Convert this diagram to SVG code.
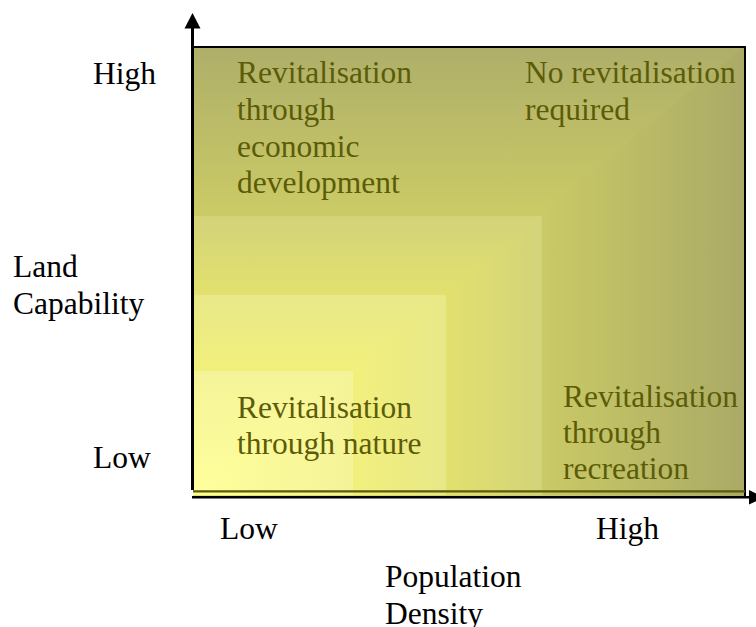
<svg xmlns="http://www.w3.org/2000/svg" width="756" height="627" viewBox="0 0 756 627">
<style>
.lbl{font-family:"Liberation Serif","Times New Roman",serif;font-size:31.5px;fill:#000}
.q{font-family:"Liberation Serif","Times New Roman",serif;font-size:31.5px;fill:#5c5c08}
.ax{stroke:#000;stroke-width:3;fill:none}
</style>
<defs>
<linearGradient id="o-h" gradientUnits="userSpaceOnUse" x1="193" y1="0" x2="745" y2="0">
<stop offset="0" stop-color="#e6e660"/><stop offset="0.62" stop-color="#cbcb66"/><stop offset="1" stop-color="#aaaa67"/>
</linearGradient>
<linearGradient id="o-v" gradientUnits="userSpaceOnUse" x1="0" y1="495" x2="0" y2="46">
<stop offset="0" stop-color="#e6e660"/><stop offset="0.62" stop-color="#cbcb66"/><stop offset="1" stop-color="#aeae6a"/>
</linearGradient>
<linearGradient id="r2-h" gradientUnits="userSpaceOnUse" x1="193" y1="0" x2="542" y2="0">
<stop offset="0" stop-color="#efee70"/><stop offset="0.72" stop-color="#e2e16e"/><stop offset="1" stop-color="#d3d37a"/>
</linearGradient>
<linearGradient id="r2-v" gradientUnits="userSpaceOnUse" x1="0" y1="495" x2="0" y2="216">
<stop offset="0" stop-color="#efee70"/><stop offset="0.72" stop-color="#e2e16e"/><stop offset="1" stop-color="#d3d37a"/>
</linearGradient>
<linearGradient id="r3-h" gradientUnits="userSpaceOnUse" x1="193" y1="0" x2="446" y2="0">
<stop offset="0" stop-color="#fafa88"/><stop offset="0.62" stop-color="#f2f07c"/><stop offset="1" stop-color="#e8e889"/>
</linearGradient>
<linearGradient id="r3-v" gradientUnits="userSpaceOnUse" x1="0" y1="495" x2="0" y2="295">
<stop offset="0" stop-color="#fafa88"/><stop offset="0.62" stop-color="#f2f07c"/><stop offset="1" stop-color="#e8e889"/>
</linearGradient>
<linearGradient id="r4-h" gradientUnits="userSpaceOnUse" x1="193" y1="0" x2="353" y2="0">
<stop offset="0" stop-color="#ffff9c"/><stop offset="1" stop-color="#f5f398"/>
</linearGradient>
<linearGradient id="r4-v" gradientUnits="userSpaceOnUse" x1="0" y1="495" x2="0" y2="371">
<stop offset="0" stop-color="#ffff9c"/><stop offset="1" stop-color="#f5f398"/>
</linearGradient>
</defs>

<g id="background-bands">
<rect x="193" y="46" width="552" height="451" fill="url(#o-h)"/>
<polygon points="193,497 193,46 745,46" fill="url(#o-v)"/>
<rect x="193" y="216" width="349" height="279" fill="url(#r2-h)"/>
<polygon points="193,495 193,216 542,216" fill="url(#r2-v)"/>
<rect x="193" y="295" width="253" height="200" fill="url(#r3-h)"/>
<polygon points="193,495 193,295 446,295" fill="url(#r3-v)"/>
<rect x="193" y="371" width="160" height="124" fill="url(#r4-h)"/>
<polygon points="193,495 193,371 353,371" fill="url(#r4-v)"/>
<polyline points="193,47 745,47 745,497" fill="none" stroke="#000" stroke-width="2"/>
<line x1="193" y1="491.3" x2="745" y2="491.3" stroke="#5a5a08" stroke-width="2.2"/>
</g>

<g id="connectors">
<line class="ax" x1="192.5" y1="27" x2="192.5" y2="490"/>
<polygon points="184.5,28.5 192.5,13 200.5,28.5" fill="#000"/>
<line x1="192" y1="497.3" x2="751" y2="497.3" stroke="#000" stroke-width="2.5"/>
<polygon points="749,490 764,497.3 749,504.6" fill="#000"/>
</g>

<g id="q-top-left">
<text class="q" x="237" y="83">Revitalisation</text>
<text class="q" x="237" y="120">through</text>
<text class="q" x="237" y="157">economic</text>
<text class="q" x="237" y="193">development</text>
</g>
<g id="q-top-right">
<text class="q" x="525" y="83">No revitalisation</text>
<text class="q" x="525" y="120">required</text>
</g>
<g id="q-bottom-left">
<text class="q" x="237" y="418">Revitalisation</text>
<text class="q" x="237" y="454">through nature</text>
</g>
<g id="q-bottom-right">
<text class="q" x="563" y="407">Revitalisation</text>
<text class="q" x="563" y="443">through</text>
<text class="q" x="563" y="479">recreation</text>
</g>

<g id="y-axis-labels">
<text class="lbl" x="93" y="84">High</text>
<text class="lbl" x="13" y="277">Land</text>
<text class="lbl" x="13" y="314">Capability</text>
<text class="lbl" x="93" y="468">Low</text>
</g>
<g id="x-axis-labels">
<text class="lbl" x="220" y="539">Low</text>
<text class="lbl" x="596" y="539">High</text>
<text class="lbl" x="385" y="587">Population</text>
<text class="lbl" x="385" y="624">Density</text>
</g>
</svg>
